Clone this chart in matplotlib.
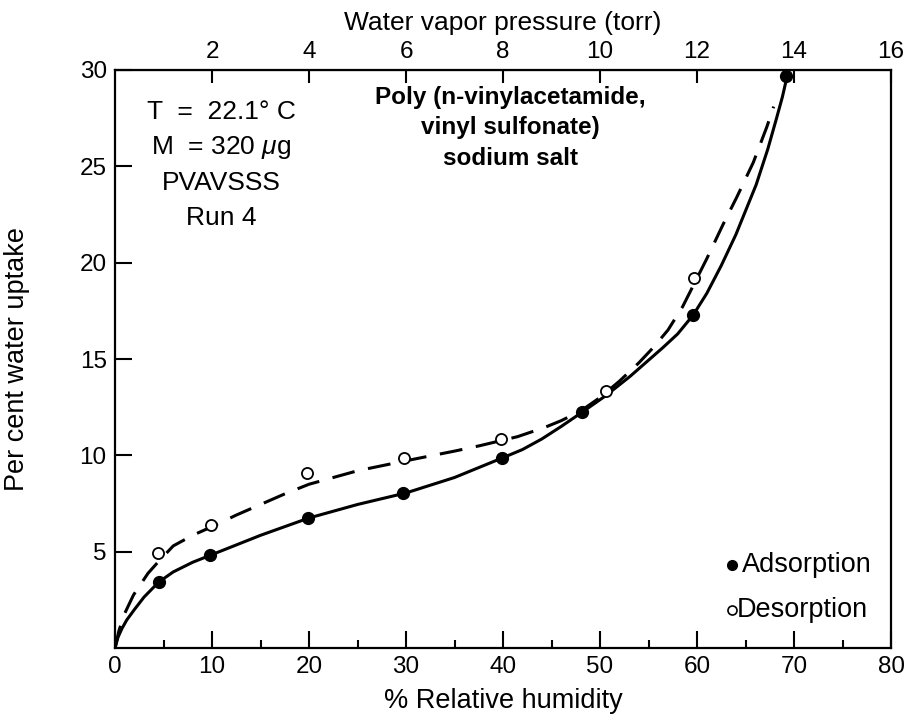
import numpy as np
import matplotlib
matplotlib.use("Agg")
import matplotlib.pyplot as plt

plt.rcParams['font.family'] = ['Liberation Sans', 'DejaVu Sans']
plt.rcParams['mathtext.fontset'] = 'custom'
plt.rcParams['mathtext.rm'] = 'Liberation Sans'
plt.rcParams['mathtext.it'] = 'Liberation Sans:italic'

# measured points (% RH, per cent water uptake)
ads_rh = [4.5, 9.8, 19.9, 29.7, 39.9, 48.1, 59.6, 69.2]
ads_up = [3.44, 4.83, 6.76, 8.03, 9.88, 12.26, 17.28, 29.7]
des_rh = [4.4, 9.9, 19.8, 29.8, 39.8, 50.6, 59.7]
des_up = [4.91, 6.38, 9.10, 9.84, 10.83, 13.35, 19.2]

# fitted curves
ads_fit_rh = [0, 0.3, 0.7, 1.2, 2, 3, 4.5, 6, 8, 10, 12.5, 15, 20, 25, 30, 35,
              40, 42, 44, 46, 48.1, 50.6, 53.1, 56.5, 58, 59.6, 61, 62.5, 64,
              66.1, 67.3, 68.2, 68.8, 69.3]
ads_fit_up = [0, 0.55, 1.0, 1.45, 2.0, 2.65, 3.42, 3.95, 4.45, 4.85, 5.35, 5.85,
              6.75, 7.45, 8.05, 8.85, 9.88, 10.3, 10.85, 11.5, 12.22, 13.1, 14.1,
              15.6, 16.3, 17.28, 18.4, 19.85, 21.45, 24.05, 25.9, 27.5, 28.6,
              29.7]
des_fit_rh = [0, 0.4, 1, 1.9, 3.4, 4.5, 6, 8, 10, 12.5, 15, 17.5, 20, 25, 30,
              35, 37.6, 41.5, 44.3, 46, 48, 50, 52, 54, 55.5, 57, 58.5, 59.8,
              61, 62.7, 64.1, 65.8, 67.2, 67.9]
des_fit_up = [0, 0.9, 1.8, 2.75, 3.88, 4.5, 5.3, 5.85, 6.3, 6.9, 7.45, 8.0, 8.5,
              9.2, 9.72, 10.22, 10.5, 10.97, 11.45, 11.8, 12.3, 13.0, 13.85,
              14.8, 15.6, 16.5, 17.7, 19.0, 20.2, 22.0, 23.4, 25.2, 27.05, 28.1]

x_major = [0, 10, 20, 30, 40, 50, 60, 70, 80]
x_minor = [5, 15, 25, 35, 45, 55, 65, 75]
y_major = [5, 10, 15, 20, 25, 30]
torr_ticks = [2, 4, 6, 8, 10, 12, 14, 16]

fig = plt.figure(figsize=(9.08, 7.17), dpi=100)
ax = fig.add_axes([0.1267, 0.0962, 0.8546, 0.8062])

ax.plot(ads_fit_rh, ads_fit_up, color='black', lw=2.2, solid_joinstyle='round')
ax.plot(des_fit_rh, des_fit_up, color='black', lw=2.2, dashes=(7.5, 4.5))
ax.plot(ads_rh, ads_up, 'o', color='black', ms=8.5, zorder=5)
ax.plot(des_rh, des_up, 'o', mfc='white', mec='black', mew=1.3, ms=8, zorder=5)

ax.set_xlim(0, 80)
ax.set_ylim(0, 30)
ax.set_xticks(x_major)
ax.set_xticks(x_minor, minor=True)
ax.set_yticks(y_major)
ax.tick_params(axis='both', which='major', direction='in', length=12, width=1.5,
               labelsize=17.5, pad=6)
ax.tick_params(axis='x', which='minor', direction='in', length=6, width=1.5)
for s in ax.spines.values():
    s.set_linewidth(1.6)

ax.set_xlabel('% Relative humidity', fontsize=19.5, labelpad=7)
ax.set_ylabel('Per cent water uptake', fontsize=19.5, labelpad=36)

top = ax.secondary_xaxis('top', functions=(lambda x: x / 5.0, lambda p: p * 5.0))
top.set_xticks(torr_ticks)
top.tick_params(direction='in', length=9, width=1.5, labelsize=17.5, pad=5)
top.set_xlabel('Water vapor pressure (torr)', fontsize=19, labelpad=8)

# sample info
info = ['T  =  22.1° C', 'M  = 320 $\\mu$g', 'PVAVSSS', 'Run 4']
for i, line in enumerate(info):
    ax.text(0.137, 0.928 - i * 0.0615, line, transform=ax.transAxes,
            ha='center', va='center', fontsize=19)

title = ['Poly (n-vinylacetamide,', 'vinyl sulfonate)', 'sodium salt']
for i, line in enumerate(title):
    ax.text(0.509, 0.953 - i * 0.053, line, transform=ax.transAxes,
            ha='center', va='center', fontsize=17.5, fontweight='bold')

# legend
ax.plot([0.7957], [0.143], 'o', color='black', ms=7, transform=ax.transAxes)
ax.text(0.808, 0.143, 'Adsorption', transform=ax.transAxes, ha='left',
        va='center', fontsize=19.5)
ax.plot([0.7957], [0.065], 'o', mfc='white', mec='black', mew=1.2, ms=6.5,
        transform=ax.transAxes)
ax.text(0.801, 0.065, 'Desorption', transform=ax.transAxes, ha='left',
        va='center', fontsize=19.5)

fig.savefig('out.png', dpi=100)
